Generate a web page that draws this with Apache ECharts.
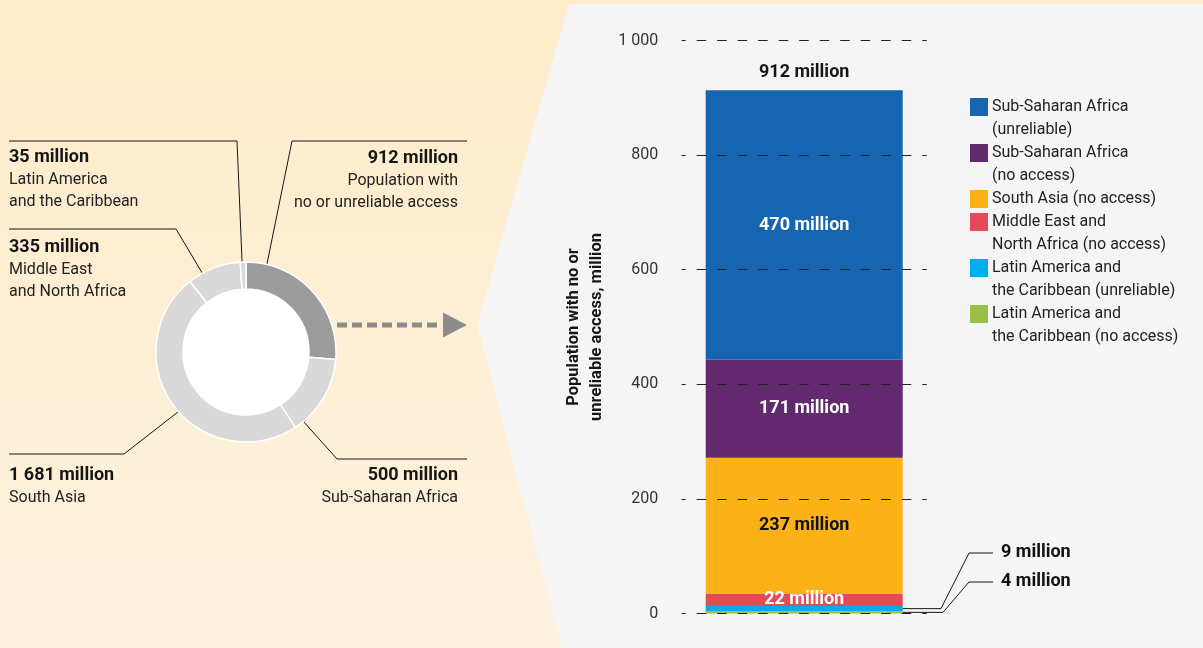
<!DOCTYPE html>
<html>
<head>
<meta charset="utf-8">
<title>Population with no or unreliable access</title>
<script src="https://cdn.jsdelivr.net/npm/echarts@6/dist/echarts.min.js"></script>
<style>
  html, body { margin: 0; padding: 0; background: #fdefd2; }
  #main { width: 1203px; height: 648px; }
</style>
</head>
<body>
<div id="main"></div>
<script>
// ---- Data ----
// Donut: population by region (million), first slice is the total with no or unreliable access
const pieValues = [912, 500, 1681, 335, 35];
const pieDescriptions = [
  ['Population with', 'no or unreliable access'],
  ['Sub-Saharan Africa'],
  ['South Asia'],
  ['Middle East', 'and North Africa'],
  ['Latin America', 'and the Caribbean']
];

// Stacked bar: breakdown of the population with no or unreliable access (million), bottom to top
const barCategories = ['Total'];
const barSeriesNames = [
  'Latin America and\nthe Caribbean (no access)',
  'Latin America and\nthe Caribbean (unreliable)',
  'Middle East and\nNorth Africa (no access)',
  'South Asia (no access)',
  'Sub-Saharan Africa\n(no access)',
  'Sub-Saharan Africa\n(unreliable)'
];
const barValues = [4, 9, 22, 237, 171, 470];
const barTotalLabel = 912;
const yTicks = [0, 200, 400, 600, 800, 1000];

// ---- Styles ----
const barColors = ['#9bbe46', '#00aeef', '#e5495a', '#fcb216', '#63296f', '#1565b0'];
const barLabelColors = ['#111', '#111', '#fff', '#111', '#fff', '#fff'];
const pieColors = ['#9c9c9c', '#d9d9d9', '#d9d9d9', '#d9d9d9', '#d9d9d9'];
const FONT = 'Roboto, "Noto Sans", sans-serif';
const INK = '#161616';
const BOLD_SIZE = 18;

// thousands separated by a space: 1681 -> "1 681"
const fmt = v => String(v).replace(/\B(?=(\d{3})+(?!\d))/g, ' ');

const chart = echarts.init(document.getElementById('main'));

// donut geometry
const pieCenter = [246, 352];
const pieRadius = [63, 90];

// outside labels for the two thin bottom segments
const outsideLabelY = { 0: 581, 1: 552 };

const barSeries = barSeriesNames.map((name, i) => ({
  name: name,
  type: 'bar',
  stack: 'total',
  barWidth: 197,
  data: [barValues[i]],
  itemStyle: { color: barColors[i] },
  z: 2,
  label: {
    show: true,
    position: 'inside',
    formatter: p => fmt(p.value) + ' million',
    color: barLabelColors[i],
    fontFamily: FONT,
    fontSize: BOLD_SIZE,
    fontWeight: 'bold'
  },
  labelLayout: outsideLabelY[i] !== undefined
    ? { x: 1001, y: outsideLabelY[i], align: 'left', verticalAlign: 'middle' }
    : undefined
}));

// zero-height cap carrying the total above the stack
barSeries.push({
  name: 'total',
  type: 'bar',
  stack: 'total',
  barWidth: 197,
  data: [0],
  itemStyle: { color: 'transparent' },
  label: {
    show: true,
    position: 'top',
    distance: 9,
    formatter: () => fmt(barTotalLabel) + ' million',
    color: INK,
    fontFamily: FONT,
    fontSize: BOLD_SIZE,
    fontWeight: 'bold'
  }
});

// dashed reference lines drawn above the bars
barSeries.push({
  name: 'grid',
  type: 'line',
  data: [],
  z: 10,
  silent: true,
  markLine: {
    silent: true,
    symbol: 'none',
    label: { show: false },
    lineStyle: { color: '#222', width: 1, type: [9.5, 11], dashOffset: 5.5 },
    data: yTicks.map(v => ({ yAxis: v }))
  }
});

const option = {
  animation: false,
  backgroundColor: 'transparent',
  textStyle: { fontFamily: FONT },
  grid: { left: 681.7, right: 276.3, top: 40.5, bottom: 34.5 },
  xAxis: {
    type: 'category',
    data: barCategories,
    show: false
  },
  yAxis: {
    type: 'value',
    min: 0,
    max: 1000,
    interval: 200,
    name: 'Population with no or\nunreliable access, million',
    nameLocation: 'middle',
    nameRotate: 90,
    nameGap: 73,
    nameTextStyle: {
      fontFamily: FONT, fontSize: 16.5, fontWeight: 'bold', color: INK, lineHeight: 23
    },
    axisLine: { show: false },
    axisTick: { show: false },
    splitLine: { show: false },
    axisLabel: {
      margin: 23.5,
      color: '#333',
      fontFamily: FONT,
      fontSize: 16,
      formatter: v => fmt(v)
    }
  },
  series: [
    {
      name: 'regions',
      type: 'pie',
      center: pieCenter,
      radius: pieRadius,
      startAngle: 90,
      clockwise: true,
      silent: true,
      z: 3,
      label: { show: false },
      labelLine: { show: false },
      itemStyle: { borderColor: '#ffffff', borderWidth: 1.5 },
      data: pieValues.map((v, i) => ({ value: v, name: pieDescriptions[i].join(' '), itemStyle: { color: pieColors[i] } }))
    }
  ].concat(barSeries)
};

chart.setOption(option);

// ---- Annotations ----
const g = [];

// page background: warm panel with the grey chart panel cut in from the right
g.push({
  type: 'rect', z: -100, silent: true,
  shape: { x: 0, y: 0, width: 1203, height: 648 },
  style: {
    fill: new echarts.graphic.LinearGradient(0, 0, 0, 1, [
      { offset: 0, color: '#feecca' },
      { offset: 1, color: '#fdf2df' }
    ])
  }
});
g.push({
  type: 'polygon', z: -99, silent: true,
  shape: { points: [[569, 4], [1203, 4], [1203, 648], [562, 648], [477, 325]] },
  style: { fill: '#f5f5f5' }
});

// donut hole
g.push({
  type: 'circle', z: 1, silent: true,
  shape: { cx: pieCenter[0], cy: pieCenter[1], r: pieRadius[0] - 0.5 },
  style: { fill: '#ffffff' }
});

// arrow from the donut to the bar panel
g.push({
  type: 'line', z: 1, silent: true,
  shape: { x1: 337, y1: 325, x2: 441, y2: 325 },
  style: { stroke: '#8c8c8c', lineWidth: 5, lineDash: [10, 5] }
});
g.push({
  type: 'polygon', z: 1, silent: true,
  shape: { points: [[443, 312.5], [467, 325], [443, 337.5]] },
  style: { fill: '#8c8c8c' }
});

// donut callouts: anchor angle (degrees clockwise from top), elbow, end, label anchor
const pieCallouts = [
  { angle: 13.4,  elbow: [292, 141], end: [467, 141], tx: 458, ty: 158, align: 'right' },
  { angle: 140.4, elbow: [337, 459], end: [467, 459], tx: 458, ty: 475, align: 'right' },
  { angle: 228.6, elbow: [124, 454], end: [9, 454],   tx: 9,   ty: 475, align: 'left' },
  { angle: 331,   elbow: [176, 229], end: [9, 229],   tx: 9,   ty: 247, align: 'left' },
  { angle: 357.5, elbow: [237, 141], end: [9, 141],   tx: 9,   ty: 157, align: 'left' }
];
pieCallouts.forEach((c, i) => {
  const a = c.angle * Math.PI / 180;
  const r = pieRadius[1] + 0.5;
  const anchor = [pieCenter[0] + r * Math.sin(a), pieCenter[1] - r * Math.cos(a)];
  g.push({
    type: 'polyline', z: 1, silent: true,
    shape: { points: [anchor, c.elbow, c.end] },
    style: { stroke: INK, lineWidth: 1, fill: null }
  });
  g.push({
    type: 'text', z: 1, silent: true, x: c.tx, y: c.ty,
    style: {
      text: fmt(pieValues[i]) + ' million', fill: INK, align: c.align, verticalAlign: 'middle',
      font: 'bold ' + BOLD_SIZE + 'px ' + FONT
    }
  });
  pieDescriptions[i].forEach((line, k) => {
    g.push({
      type: 'text', z: 1, silent: true, x: c.tx, y: c.ty + 22.5 * (k + 1),
      style: {
        text: line, fill: '#222', align: c.align, verticalAlign: 'middle',
        font: '16px ' + FONT
      }
    });
  });
});

// leader lines for the two thin segments at the bottom of the stack
let base = 0;
const mids = barValues.map(v => { const m = base + v / 2; base += v; return m; });
const barCenter = chart.convertToPixel({ xAxisIndex: 0, yAxisIndex: 0 }, [barCategories[0], 0]);
const barRight = barCenter[0] + 197 / 2;
const elbowX = { 0: 943, 1: 941 };
[1, 0].forEach(i => {
  const y = chart.convertToPixel({ xAxisIndex: 0, yAxisIndex: 0 }, [barCategories[0], mids[i]])[1];
  g.push({
    type: 'polyline', z: 1, silent: true,
    shape: { points: [[barRight, y], [elbowX[i], y], [969, outsideLabelY[i] + 1], [993, outsideLabelY[i] + 1]] },
    style: { stroke: INK, lineWidth: 1, fill: null }
  });
});

// legend, top of the stack first
let lineIdx = 0;
for (let i = barSeriesNames.length - 1; i >= 0; i--) {
  const lines = barSeriesNames[i].split('\n');
  const cy = 107 + 23 * lineIdx;
  g.push({
    type: 'rect', z: 1, silent: true,
    shape: { x: 970, y: cy - 9, width: 18, height: 18 },
    style: { fill: barColors[i] }
  });
  lines.forEach((line, k) => {
    g.push({
      type: 'text', z: 1, silent: true, x: 992, y: cy + 23 * k,
      style: { text: line, fill: '#222', align: 'left', verticalAlign: 'middle', font: '16px ' + FONT }
    });
  });
  lineIdx += lines.length;
}

chart.setOption({ graphic: g });
</script>
</body>
</html>
